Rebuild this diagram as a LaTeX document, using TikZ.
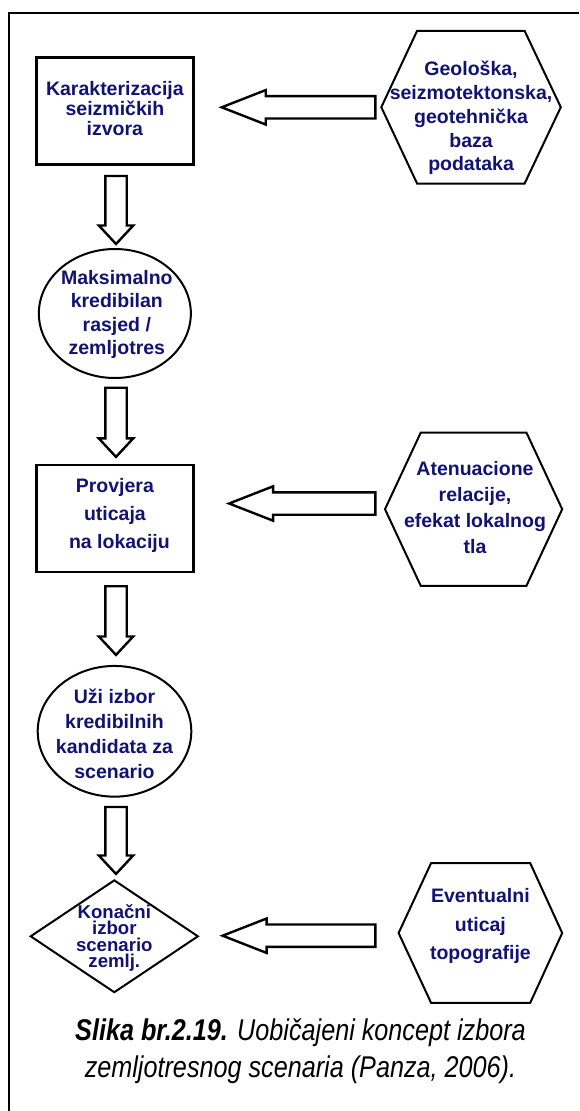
\documentclass[tikz,border=0pt]{standalone}
\usepackage{fontspec}
\setmainfont{Liberation Sans}
\usetikzlibrary{shapes.geometric,calc}
\definecolor{navytext}{RGB}{18,18,115}
\tikzset{
  every picture/.style={x=1pt,y=-1pt},
  lbl/.style={font=\bfseries\fontsize{19.5}{#1}\selectfont, text=navytext, align=center, inner sep=0pt},
  smalllbl/.style={font=\bfseries\fontsize{18.6}{#1}\selectfont, text=navytext, align=center, inner sep=0pt},
  rectbox/.style={draw, line width=2.6pt, minimum width=157pt, minimum height=107pt, inner sep=0pt},
  ellbox/.style={draw, ellipse, line width=2pt, inner sep=0pt},
  diabox/.style={draw, diamond, line width=2pt, inner sep=0pt, minimum width=168pt, minimum height=112.7pt},
  hexframe/.style={draw=none, inner sep=0pt},
  hexline/.style={line width=2pt, line join=miter},
  blockarrow/.style={draw, line width=2.4pt, line join=miter, fill=white},
  frameline/.style={line width=1.8pt}
}
\newcommand\vblock[2]{%
  \draw[blockarrow] let \p1=(#1), \p2=(#2) in
    (\x2-10.7pt,\y1) -- (\x2+10.7pt,\y1) -- (\x2+10.7pt,\y2+18.5pt) -- (\x2+17.2pt,\y2+18.5pt)
    -- (\x2,\y2) -- (\x2-17.2pt,\y2+18.5pt) -- (\x2-10.7pt,\y2+18.5pt) -- cycle;}
\newcommand\hblock[2]{%
  \draw[blockarrow] let \p1=(#1), \p2=(#2) in
    (\x1,\y1+11.2pt) -- (\x2+44pt,\y1+11.2pt) -- (\x2+44pt,\y1+17.2pt) -- (\x2,\y1)
    -- (\x2+44pt,\y1-17.2pt) -- (\x2+44pt,\y1-11.2pt) -- (\x1,\y1-11.2pt) -- cycle;}
\newcommand\hexpath[3]{% node, left chamfer, right chamfer
  \draw[hexline] (#1.west) -- ($(#1.north west)+(#2,0)$) -- ($(#1.north east)+(-#3,0)$) -- (#1.east)
    -- ($(#1.south east)+(-#3,0)$) -- ($(#1.south west)+(#2,0)$) -- cycle;}
\begin{document}
\begin{tikzpicture}
\useasboundingbox (0,0) rectangle (579,1111);
\fill[white] (0,0) rectangle (579,1111);
% frame
\draw[frameline] (8.9,1111) -- (8.9,13.3) -- (579,13.3);

% left column
\node[rectbox, label={[lbl=20, yshift=3pt, xshift=0pt]center:{Karakterizacija\\seizmičkih\\izvora}}] (r1) at (114.9,111.2) {};
\node[ellbox, minimum width=152pt, minimum height=129pt, label={[lbl=23.3, yshift=-1pt, xshift=2pt]center:{Maksimalno\\kredibilan\\rasjed /\\zemljotres}}] (e1) at (114.85,313.5) {};
\node[rectbox, label={[lbl=28, yshift=3.4pt]center:{Provjera\\uticaja\\\hspace*{9pt}na lokaciju}}] (r2) at (114.9,518.4) {};
\node[ellbox, minimum width=153.6pt, minimum height=130.7pt, label={[lbl=25, yshift=-3pt]center:{Uži izbor\\kredibilnih\\kandidata za\\scenario}}] (e2) at (114.5,731.3) {};
\node[diabox, label={[smalllbl=16.4, yshift=-1.7pt, xshift=0pt]center:{Konačni\\izbor\\scenario\\zemlj.}}] (d1) at (114.3,936.3) {};

% right column hexagons
\node[hexframe, minimum width=179.1pt, minimum height=152.3pt, label={[lbl=23.9, yshift=-10.7pt]center:{Geološka,\\seizmotektonska,\\geotehnička\\baza\\podataka}}] (h1) at (471.05,107.2) {};
\hexpath{h1}{35.8}{36.2}
\node[hexframe, minimum width=176.8pt, minimum height=153pt, label={[lbl=26.1, yshift=1.7pt, xshift=1.4pt]center:{Atenuacione\\relacije,\\efekat lokalnog\\tla}}] (h2) at (473.6,509.2) {};
\hexpath{h2}{35.8}{35.8}
\node[hexframe, minimum width=163.2pt, minimum height=139.4pt, label={[lbl=28.2, yshift=7pt]center:{Eventualni\\uticaj\\topografije}}] (h3) at (480.4,933) {};
\hexpath{h3}{32.5}{32}

% vertical block arrows
\coordinate (a1s) at ($(r1.south)+(1.3,10)$);
\coordinate (a1e) at ($(e1.north)+(1.2,-4)$);
\vblock{a1s}{a1e}
\coordinate (a2s) at ($(e1.south)+(0,8.7)$);
\coordinate (a2e) at ($(r2.north)+(1.1,-6.7)$);
\vblock{a2s}{a2e}
\coordinate (a3s) at ($(r2.south)+(0,13)$);
\coordinate (a3e) at ($(e2.north)+(1.5,-10)$);
\vblock{a3s}{a3e}
\coordinate (a4s) at ($(e2.south)+(0,9.3)$);
\coordinate (a4e) at ($(d1.north)+(1.7,-5)$);
\vblock{a4s}{a4e}

% horizontal block arrows
\coordinate (b1s) at ($(h1.west)+(-5.9,0.1)$);
\coordinate (b1e) at ($(r1.east)+(27,0)$);
\hblock{b1s}{b1e}
\coordinate (b2s) at ($(h2.west)+(-9.6,-5.7)$);
\coordinate (b2e) at ($(r2.east)+(34.4,0)$);
\hblock{b2s}{b2e}
\coordinate (b3s) at ($(h3.west)+(-23.2,2.7)$);
\coordinate (b3e) at ($(d1.east)+(23.3,0)$);
\hblock{b3s}{b3e}

% caption
\node[inner sep=0pt, font=\fontsize{30}{36.7}\selectfont, align=center] (cap) at (300.5,1051)
  {\scalebox{0.84}[1]{\textbf{\textit{Slika br.2.19.}}\textit{ Uobičajeni koncept izbora}}\\
   \scalebox{0.84}[1]{\textit{zemljotresnog scenaria (Panza, 2006).}}};
\end{tikzpicture}
\end{document}
